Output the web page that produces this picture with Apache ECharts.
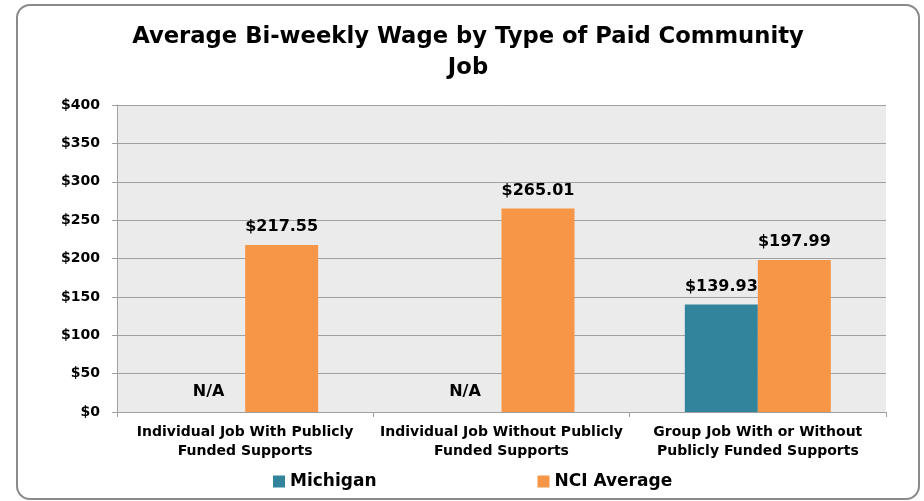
<!DOCTYPE html>
<html>
<head>
<meta charset="utf-8">
<script src="https://cdn.jsdelivr.net/npm/echarts@6/dist/echarts.min.js"></script>
<style>
  html, body { margin: 0; padding: 0; background: #ffffff; }
  #chart { width: 924px; height: 501px; }
</style>
</head>
<body>
<div id="chart"></div>
<script>
// Job types on the x axis
const categories = [
  'Individual Job With Publicly\nFunded Supports',
  'Individual Job Without Publicly\nFunded Supports',
  'Group Job With or Without\nPublicly Funded Supports'
];
// Average bi-weekly wage (USD); null = not available
const michigan = [null, null, 139.93];
const nciAverage = [217.55, 265.01, 197.99];
const seriesNames = ['Michigan', 'NCI Average'];

const FONT = '"DejaVu Sans", sans-serif';
const money = v => '$' + v.toFixed(2);

const chart = echarts.init(document.getElementById('chart'), null, { renderer: 'canvas' });

chart.setOption({
  animation: false,
  backgroundColor: '#ffffff',
  title: {
    text: 'Average Bi-weekly Wage by Type of Paid Community\nJob',
    left: 463,
    textAlign: 'center',
    top: 17,
    textStyle: {
      fontFamily: FONT, fontWeight: 'bold', fontSize: 22.7, color: '#000000', lineHeight: 31
    }
  },
  graphic: [{
    type: 'rect',
    shape: { x: 17, y: 5, width: 902, height: 494, r: 13 },
    style: { fill: 'none', stroke: '#8a8a8a', lineWidth: 2 },
    z: 100
  }],
  legend: {
    left: 268,
    top: 468,
    itemWidth: 12,
    itemHeight: 12,
    itemGap: 161,
    icon: 'rect',
    textStyle: { fontFamily: FONT, fontWeight: 'bold', fontSize: 17, color: '#000000' },
    data: seriesNames
  },
  grid: {
    left: 117, right: 38, top: 105, bottom: 89,
    show: true, backgroundColor: '#ebebeb', borderWidth: 0
  },
  xAxis: {
    type: 'category',
    data: categories,
    axisLine: { lineStyle: { color: '#a0a0a0', width: 1 } },
    axisTick: { show: true, length: 5, lineStyle: { color: '#a0a0a0' } },
    axisLabel: {
      fontFamily: FONT, fontWeight: 'bold', fontSize: 14, color: '#000000',
      lineHeight: 19, margin: 11, interval: 0
    }
  },
  yAxis: {
    type: 'value',
    min: 0, max: 400, interval: 50,
    axisLine: { show: true, lineStyle: { color: '#a0a0a0', width: 1 } },
    axisTick: { show: true, length: 5, lineStyle: { color: '#a0a0a0' } },
    splitLine: { lineStyle: { color: '#a0a0a0', width: 1 } },
    axisLabel: {
      fontFamily: FONT, fontWeight: 'bold', fontSize: 14, color: '#000000',
      margin: 17, formatter: v => '$' + v
    }
  },
  series: [
    {
      name: seriesNames[0],
      type: 'bar',
      barWidth: 73,
      barGap: '0%',
      itemStyle: { color: '#31849b' },
      label: {
        show: true, position: 'top', distance: 10,
        fontFamily: FONT, fontWeight: 'bold', fontSize: 16, color: '#000000',
        formatter: p => money(p.value)
      },
      data: michigan.map(v => v === null
        ? { value: 0, label: { formatter: 'N/A', distance: 12 } }
        : v)
    },
    {
      name: seriesNames[1],
      type: 'bar',
      barWidth: 73,
      barGap: '0%',
      itemStyle: { color: '#f79646' },
      label: {
        show: true, position: 'top', distance: 10,
        fontFamily: FONT, fontWeight: 'bold', fontSize: 16, color: '#000000',
        formatter: p => money(p.value)
      },
      data: nciAverage
    }
  ]
});
</script>
</body>
</html>
